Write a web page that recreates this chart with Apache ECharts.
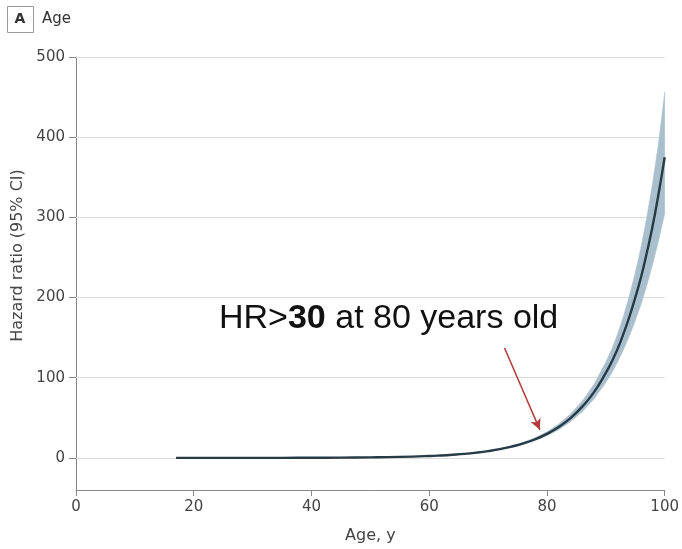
<!DOCTYPE html>
<html>
<head>
<meta charset="utf-8">
<script src="https://cdn.jsdelivr.net/npm/echarts@6/dist/echarts.min.js"></script>
<style>html,body{margin:0;padding:0;background:#fff}#c{width:682px;height:549px}</style>
</head>
<body>
<div id="c"></div>
<script>
const ages  = [17,20,25,30,35,40,45,50,55,60,62,64,66,68,70,72,74,76,78,80,82,84,86,88,90,91,92,93,94,95,96,97,98,99,100];
const hr    = [0.01,0.02,0.03,0.05,0.1,0.19,0.36,0.68,1.3,2.4,3.1,4.0,5.1,6.6,8.5,10.9,14.1,18.1,23.3,30,38.6,49.7,64,82,106,120,136,155,176,200,226,257,291,331,375];
const lower = [0.01,0.02,0.03,0.05,0.09,0.17,0.33,0.62,1.2,2.2,2.9,3.8,4.8,6.3,8.0,10.3,13.1,16.8,21.5,27.6,35.2,45.0,57.6,73.6,94.0,106.0,119.5,135,152,171,192,216,243,272,305];
const upper = [0.01,0.02,0.03,0.05,0.11,0.21,0.39,0.74,1.4,2.6,3.3,4.2,5.4,6.9,9.0,11.6,15.1,19.5,25.2,32.6,42.3,54.8,71.0,92.0,119.5,135.5,154.5,177,202.4,231,263.5,302,345,395,456];
const yTicks = [0,100,200,300,400,500];
const arrowFrom = [72.8,137];
const arrowTo = [78.8,35];

const chart = echarts.init(document.getElementById('c'));
const font = 'DejaVu Sans';
const bandData = ages.map((a,i)=>[a,lower[i],upper[i]]);
const hrData = ages.map((a,i)=>[a,hr[i]]);

function renderBand(params, api){
  if (params.dataIndex !== 0) return null;
  const pts = [];
  for (let i=0;i<ages.length;i++) pts.push(api.coord([ages[i], upper[i]]));
  for (let i=ages.length-1;i>=0;i--) pts.push(api.coord([ages[i], lower[i]]));
  return {type:'polygon',shape:{points:pts,smooth:0},style:{fill:'#a9bfcd',stroke:'#a9bfcd',lineWidth:0.5}};
}

chart.setOption({
  animation:false,
  backgroundColor:'#fff',
  grid:{left:76,right:17,top:57,bottom:59,containLabel:false},
  xAxis:{
    type:'value',min:0,max:100,interval:20,
    name:'Age, y',nameLocation:'middle',nameGap:38,
    nameTextStyle:{fontFamily:font,fontSize:16,color:'#444'},
    axisLine:{show:true,onZero:false,lineStyle:{color:'#888',width:1}},
    axisTick:{show:true,length:6,lineStyle:{color:'#888'}},
    axisLabel:{fontFamily:font,fontSize:15,color:'#444',margin:10},
    splitLine:{show:false}
  },
  yAxis:{
    type:'value',min:-40,max:500,
    name:'Hazard ratio (95% CI)',nameLocation:'middle',nameGap:50,
    nameTextStyle:{fontFamily:font,fontSize:16,color:'#444',padding:[0,0,0,36]},
    axisLine:{show:true,onZero:false,lineStyle:{color:'#888',width:1}},
    axisTick:{show:true,length:7,lineStyle:{color:'#888'},customValues:yTicks},
    axisLabel:{fontFamily:font,fontSize:15,color:'#444',margin:11,customValues:yTicks},
    splitLine:{show:false}
  },
  series:[
    {type:'custom',data:bandData,renderItem:renderBand,silent:true,z:2,
     encode:{x:0,y:[1,2]},
     markLine:{silent:true,symbol:'none',label:{show:false},lineStyle:{color:'#dcdcdc',width:1,type:'solid'},
       data:yTicks.map(v=>({yAxis:v})),z:1}},
    {type:'line',data:hrData,symbol:'none',smooth:true,lineStyle:{color:'#273b46',width:2.4},z:5,
     markLine:{silent:true,symbol:['none','arrow'],symbolSize:[8,11],label:{show:false},
       lineStyle:{color:'#b23a3a',width:1.5,type:'solid'},
       data:[[{coord:arrowFrom},{coord:arrowTo}]]}}
  ],
  graphic:[
    {type:'rect',left:7,top:6,shape:{width:26,height:26},style:{fill:'#fff',stroke:'#999',lineWidth:1}},
    {type:'text',x:20,y:19,style:{text:'A',font:'bold 14px "DejaVu Sans"',fill:'#333',align:'center',verticalAlign:'middle'}},
    {type:'text',x:42,y:19,style:{text:'Age',font:'15px "DejaVu Sans"',fill:'#333',align:'left',verticalAlign:'middle'}},
    {type:'text',x:219,y:319,z:10,style:{
      text:'{a|HR>}{b|30}{a| at 80 years old}',
      align:'left',verticalAlign:'middle',
      rich:{
        a:{fontFamily:'Liberation Sans',fontSize:34,fill:'#111',color:'#111'},
        b:{fontFamily:'Liberation Sans',fontSize:34,fontWeight:'bold',fill:'#111',color:'#111'}
      }}}
  ]
});
</script>
</body>
</html>
